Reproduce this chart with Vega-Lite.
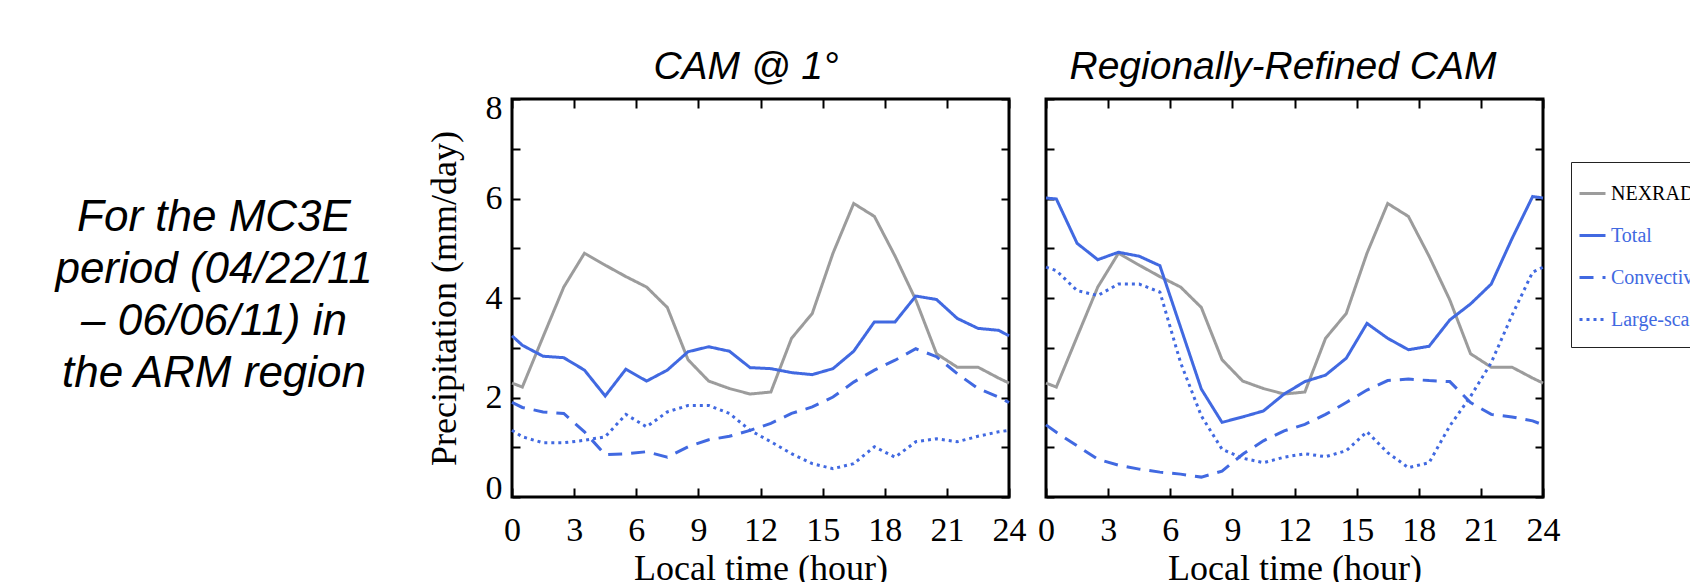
{
  "$schema": "https://vega.github.io/schema/vega-lite/v6.json",
  "background": "white",
  "padding": {"left": 0, "top": 45, "right": 0, "bottom": 0},
  "datasets": {
    "precip": [
      {"panel": "CAM", "hour": 0, "NEXRAD": 2.29, "Total": 3.24, "Convective": 1.9, "Large-scale": 1.34},
      {"panel": "CAM", "hour": 0.5, "NEXRAD": 2.21, "Total": 3.05, "Convective": 1.8, "Large-scale": 1.21},
      {"panel": "CAM", "hour": 1.5, "NEXRAD": 3.22, "Total": 2.83, "Convective": 1.71, "Large-scale": 1.09},
      {"panel": "CAM", "hour": 2.5, "NEXRAD": 4.22, "Total": 2.8, "Convective": 1.68, "Large-scale": 1.09},
      {"panel": "CAM", "hour": 3.5, "NEXRAD": 4.9, "Total": 2.55, "Convective": 1.31, "Large-scale": 1.14},
      {"panel": "CAM", "hour": 4.5, "NEXRAD": 4.66, "Total": 2.03, "Convective": 0.85, "Large-scale": 1.21},
      {"panel": "CAM", "hour": 5.5, "NEXRAD": 4.43, "Total": 2.57, "Convective": 0.87, "Large-scale": 1.66},
      {"panel": "CAM", "hour": 6.5, "NEXRAD": 4.22, "Total": 2.33, "Convective": 0.91, "Large-scale": 1.41},
      {"panel": "CAM", "hour": 7.5, "NEXRAD": 3.81, "Total": 2.55, "Convective": 0.8, "Large-scale": 1.71},
      {"panel": "CAM", "hour": 8.5, "NEXRAD": 2.76, "Total": 2.92, "Convective": 1.01, "Large-scale": 1.84},
      {"panel": "CAM", "hour": 9.5, "NEXRAD": 2.33, "Total": 3.02, "Convective": 1.15, "Large-scale": 1.84},
      {"panel": "CAM", "hour": 10.5, "NEXRAD": 2.18, "Total": 2.93, "Convective": 1.22, "Large-scale": 1.68},
      {"panel": "CAM", "hour": 11.5, "NEXRAD": 2.07, "Total": 2.6, "Convective": 1.34, "Large-scale": 1.34},
      {"panel": "CAM", "hour": 12.5, "NEXRAD": 2.11, "Total": 2.58, "Convective": 1.48, "Large-scale": 1.11},
      {"panel": "CAM", "hour": 13.5, "NEXRAD": 3.19, "Total": 2.5, "Convective": 1.68, "Large-scale": 0.87},
      {"panel": "CAM", "hour": 14.5, "NEXRAD": 3.69, "Total": 2.46, "Convective": 1.81, "Large-scale": 0.67},
      {"panel": "CAM", "hour": 15.5, "NEXRAD": 4.9, "Total": 2.58, "Convective": 2.01, "Large-scale": 0.57},
      {"panel": "CAM", "hour": 16.5, "NEXRAD": 5.9, "Total": 2.93, "Convective": 2.31, "Large-scale": 0.67},
      {"panel": "CAM", "hour": 17.5, "NEXRAD": 5.64, "Total": 3.52, "Convective": 2.55, "Large-scale": 1.01},
      {"panel": "CAM", "hour": 18.5, "NEXRAD": 4.84, "Total": 3.52, "Convective": 2.75, "Large-scale": 0.8},
      {"panel": "CAM", "hour": 19.5, "NEXRAD": 3.96, "Total": 4.04, "Convective": 2.98, "Large-scale": 1.11},
      {"panel": "CAM", "hour": 20.5, "NEXRAD": 2.88, "Total": 3.97, "Convective": 2.82, "Large-scale": 1.17},
      {"panel": "CAM", "hour": 21.5, "NEXRAD": 2.61, "Total": 3.59, "Convective": 2.48, "Large-scale": 1.11},
      {"panel": "CAM", "hour": 22.5, "NEXRAD": 2.61, "Total": 3.39, "Convective": 2.18, "Large-scale": 1.22},
      {"panel": "CAM", "hour": 23.5, "NEXRAD": 2.39, "Total": 3.35, "Convective": 2.01, "Large-scale": 1.31},
      {"panel": "CAM", "hour": 24, "NEXRAD": 2.29, "Total": 3.24, "Convective": 1.9, "Large-scale": 1.34},
      {"panel": "RR", "hour": 0, "NEXRAD": 2.29, "Total": 6.01, "Convective": 1.45, "Large-scale": 4.62},
      {"panel": "RR", "hour": 0.5, "NEXRAD": 2.21, "Total": 5.99, "Convective": 1.3, "Large-scale": 4.55},
      {"panel": "RR", "hour": 1.5, "NEXRAD": 3.22, "Total": 5.1, "Convective": 1.03, "Large-scale": 4.15},
      {"panel": "RR", "hour": 2.5, "NEXRAD": 4.22, "Total": 4.77, "Convective": 0.76, "Large-scale": 4.05},
      {"panel": "RR", "hour": 3.5, "NEXRAD": 4.9, "Total": 4.92, "Convective": 0.64, "Large-scale": 4.28},
      {"panel": "RR", "hour": 4.5, "NEXRAD": 4.66, "Total": 4.84, "Convective": 0.56, "Large-scale": 4.28},
      {"panel": "RR", "hour": 5.5, "NEXRAD": 4.43, "Total": 4.65, "Convective": 0.5, "Large-scale": 4.12},
      {"panel": "RR", "hour": 6.5, "NEXRAD": 4.22, "Total": 3.41, "Convective": 0.46, "Large-scale": 2.7},
      {"panel": "RR", "hour": 7.5, "NEXRAD": 3.81, "Total": 2.17, "Convective": 0.4, "Large-scale": 1.63},
      {"panel": "RR", "hour": 8.5, "NEXRAD": 2.76, "Total": 1.5, "Convective": 0.52, "Large-scale": 0.96},
      {"panel": "RR", "hour": 9.5, "NEXRAD": 2.33, "Total": 1.61, "Convective": 0.86, "Large-scale": 0.78},
      {"panel": "RR", "hour": 10.5, "NEXRAD": 2.18, "Total": 1.73, "Convective": 1.13, "Large-scale": 0.69},
      {"panel": "RR", "hour": 11.5, "NEXRAD": 2.07, "Total": 2.07, "Convective": 1.33, "Large-scale": 0.8},
      {"panel": "RR", "hour": 12.5, "NEXRAD": 2.11, "Total": 2.32, "Convective": 1.46, "Large-scale": 0.87},
      {"panel": "RR", "hour": 13.5, "NEXRAD": 3.19, "Total": 2.45, "Convective": 1.66, "Large-scale": 0.81},
      {"panel": "RR", "hour": 14.5, "NEXRAD": 3.69, "Total": 2.79, "Convective": 1.9, "Large-scale": 0.93},
      {"panel": "RR", "hour": 15.5, "NEXRAD": 4.9, "Total": 3.49, "Convective": 2.15, "Large-scale": 1.31},
      {"panel": "RR", "hour": 16.5, "NEXRAD": 5.9, "Total": 3.19, "Convective": 2.34, "Large-scale": 0.89},
      {"panel": "RR", "hour": 17.5, "NEXRAD": 5.64, "Total": 2.96, "Convective": 2.37, "Large-scale": 0.59},
      {"panel": "RR", "hour": 18.5, "NEXRAD": 4.84, "Total": 3.03, "Convective": 2.34, "Large-scale": 0.69},
      {"panel": "RR", "hour": 19.5, "NEXRAD": 3.96, "Total": 3.56, "Convective": 2.32, "Large-scale": 1.43},
      {"panel": "RR", "hour": 20.5, "NEXRAD": 2.88, "Total": 3.88, "Convective": 1.9, "Large-scale": 2.02},
      {"panel": "RR", "hour": 21.5, "NEXRAD": 2.61, "Total": 4.28, "Convective": 1.66, "Large-scale": 2.7},
      {"panel": "RR", "hour": 22.5, "NEXRAD": 2.61, "Total": 5.19, "Convective": 1.61, "Large-scale": 3.65},
      {"panel": "RR", "hour": 23.5, "NEXRAD": 2.39, "Total": 6.04, "Convective": 1.53, "Large-scale": 4.52},
      {"panel": "RR", "hour": 24, "NEXRAD": 2.29, "Total": 6.01, "Convective": 1.45, "Large-scale": 4.62}
    ]
  },
  "config": {
    "view": {"stroke": "black", "strokeWidth": 3},
    "axis": {
      "domain": false,
      "grid": false,
      "ticks": true,
      "tickColor": "black",
      "tickWidth": 2,
      "labelFont": "Liberation Serif",
      "labelFontSize": 34,
      "labelColor": "black",
      "titleFont": "Liberation Serif",
      "titleFontSize": 36,
      "titleFontWeight": "normal",
      "titleColor": "black"
    },
    "legend": {
      "orient": "none", "legendX": 1571, "legendY": 63, "title": null,
      "symbolType": "stroke", "symbolSize": 676, "symbolStrokeWidth": 3, "symbolOffset": -10,
      "labelFont": "Liberation Serif", "labelFontSize": 20, "labelOffset": 4, "rowPadding": 17, "padding": 17,
      "strokeColor": "#222222", "fillColor": "white", "labelLimit": 300
    }
  },
  "bounds": "flush",
  "spacing": 84,
  "hconcat": [
    {
      "width": 428,
      "height": 238,
      "view": {"stroke": null},
      "data": {"values": [{}]},
      "mark": {
        "type": "text",
        "text": ["For the MC3E", "period (04/22/11", "– 06/06/11) in", "the ARM region"],
        "font": "Liberation Sans",
        "fontStyle": "italic",
        "fontSize": 44,
        "lineHeight": 52,
        "align": "center",
        "baseline": "middle",
        "color": "black"
      }
    },
    {
      "bounds": "flush",
      "spacing": 37,
      "hconcat": [
        {
          "width": 497,
          "height": 398,
          "data": {"name": "precip"},
          "transform": [
            {"filter": "datum.panel === 'CAM'"},
            {"fold": ["NEXRAD", "Total", "Convective", "Large-scale"], "as": ["series", "value"]}
          ],
          "resolve": {"axis": {"x": "independent", "y": "independent"}},
          "layer": [
            {
              "mark": {"type": "line", "strokeWidth": 3, "strokeCap": "butt"},
              "encoding": {
                "x": {"field": "hour", "type": "quantitative", "scale": {"domain": [0, 24], "nice": false, "zero": false},
                  "axis": {"orient": "bottom", "values": [0, 3, 6, 9, 12, 15, 18, 21, 24], "title": "Local time (hour)", "tickSize": -9, "labelPadding": 25, "titlePadding": 4, "labelFlush": false}},
                "y": {"field": "value", "type": "quantitative", "scale": {"domain": [0, 8], "nice": false},
                  "axis": {"orient": "left", "values": [0, 1, 2, 3, 4, 5, 6, 7, 8], "labelExpr": "datum.value % 2 === 0 ? datum.label : ''", "labelFlush": true, "labelFlushOffset": 8, "title": "Precipitation (mm/day)", "tickSize": -8, "labelPadding": 18, "titlePadding": 22}},
                "color": {"field": "series", "type": "nominal",
                  "scale": {"domain": ["NEXRAD", "Total", "Convective", "Large-scale"], "range": ["#9c9c9c", "#4169e1", "#4169e1", "#4169e1"]},
                  "legend": {"encode": {
                    "labels": {"update": {"fill": {"signal": "datum.value === 'NEXRAD' ? '#000000' : '#4169e1'"}}},
                    "symbols": {"update": {"strokeDash": {"signal": "datum.value === 'Convective' ? [9, 7] : datum.value === 'Large-scale' ? [3, 2.5] : [1, 0]"}}}}}},
                "strokeDash": {"field": "series", "type": "nominal",
                  "scale": {"domain": ["NEXRAD", "Total", "Convective", "Large-scale"], "range": [[1, 0], [1, 0], [14, 9], [3, 4]]},
                  "legend": {"encode": {
                    "labels": {"update": {"fill": {"signal": "datum.value === 'NEXRAD' ? '#000000' : '#4169e1'"}}},
                    "symbols": {"update": {"strokeDash": {"signal": "datum.value === 'Convective' ? [9, 7] : datum.value === 'Large-scale' ? [3, 2.5] : [1, 0]"}}}}}}
              }
            },
            {
              "mark": {"type": "point", "opacity": 0},
              "encoding": {
                "x": {"field": "hour", "type": "quantitative", "axis": {"orient": "top", "values": [0, 3, 6, 9, 12, 15, 18, 21, 24], "labels": false, "tickSize": -9, "minExtent": 0, "maxExtent": 0,
                  "title": "CAM @ 1°", "titleFont": "Liberation Sans", "titleFontStyle": "italic", "titleFontWeight": "normal", "titleFontSize": 39, "titlePadding": 21, "titleBaseline": "alphabetic", "titleAlign": "center", "titleX": 233.5}},
                "y": {"field": "value", "type": "quantitative", "axis": {"orient": "right", "values": [0, 1, 2, 3, 4, 5, 6, 7, 8], "labels": false, "title": null, "tickSize": -8}}
              }
            }
          ]
        },
        {
          "width": 497,
          "height": 398,
          "data": {"name": "precip"},
          "transform": [
            {"filter": "datum.panel === 'RR'"},
            {"fold": ["NEXRAD", "Total", "Convective", "Large-scale"], "as": ["series", "value"]}
          ],
          "resolve": {"axis": {"x": "independent", "y": "independent"}},
          "layer": [
            {
              "mark": {"type": "line", "strokeWidth": 3, "strokeCap": "butt"},
              "encoding": {
                "x": {"field": "hour", "type": "quantitative", "scale": {"domain": [0, 24], "nice": false, "zero": false},
                  "axis": {"orient": "bottom", "values": [0, 3, 6, 9, 12, 15, 18, 21, 24], "title": "Local time (hour)", "tickSize": -9, "labelPadding": 25, "titlePadding": 4, "labelFlush": false}},
                "y": {"field": "value", "type": "quantitative", "scale": {"domain": [0, 8], "nice": false},
                  "axis": {"orient": "left", "values": [0, 1, 2, 3, 4, 5, 6, 7, 8], "labels": false, "title": null, "tickSize": -8}},
                "color": {"field": "series", "type": "nominal",
                  "scale": {"domain": ["NEXRAD", "Total", "Convective", "Large-scale"], "range": ["#9c9c9c", "#4169e1", "#4169e1", "#4169e1"]},
                  "legend": {"encode": {
                    "labels": {"update": {"fill": {"signal": "datum.value === 'NEXRAD' ? '#000000' : '#4169e1'"}}},
                    "symbols": {"update": {"strokeDash": {"signal": "datum.value === 'Convective' ? [9, 7] : datum.value === 'Large-scale' ? [3, 2.5] : [1, 0]"}}}}}},
                "strokeDash": {"field": "series", "type": "nominal",
                  "scale": {"domain": ["NEXRAD", "Total", "Convective", "Large-scale"], "range": [[1, 0], [1, 0], [14, 9], [3, 4]]},
                  "legend": {"encode": {
                    "labels": {"update": {"fill": {"signal": "datum.value === 'NEXRAD' ? '#000000' : '#4169e1'"}}},
                    "symbols": {"update": {"strokeDash": {"signal": "datum.value === 'Convective' ? [9, 7] : datum.value === 'Large-scale' ? [3, 2.5] : [1, 0]"}}}}}}
              }
            },
            {
              "mark": {"type": "point", "opacity": 0},
              "encoding": {
                "x": {"field": "hour", "type": "quantitative", "axis": {"orient": "top", "values": [0, 3, 6, 9, 12, 15, 18, 21, 24], "labels": false, "tickSize": -9, "minExtent": 0, "maxExtent": 0,
                  "title": "Regionally-Refined CAM", "titleFont": "Liberation Sans", "titleFontStyle": "italic", "titleFontWeight": "normal", "titleFontSize": 39, "titlePadding": 21, "titleBaseline": "alphabetic", "titleAlign": "center", "titleX": 236.5}},
                "y": {"field": "value", "type": "quantitative", "axis": {"orient": "right", "values": [0, 1, 2, 3, 4, 5, 6, 7, 8], "labels": false, "title": null, "tickSize": -8}}
              }
            }
          ]
        }
      ]
    }
  ]
}
